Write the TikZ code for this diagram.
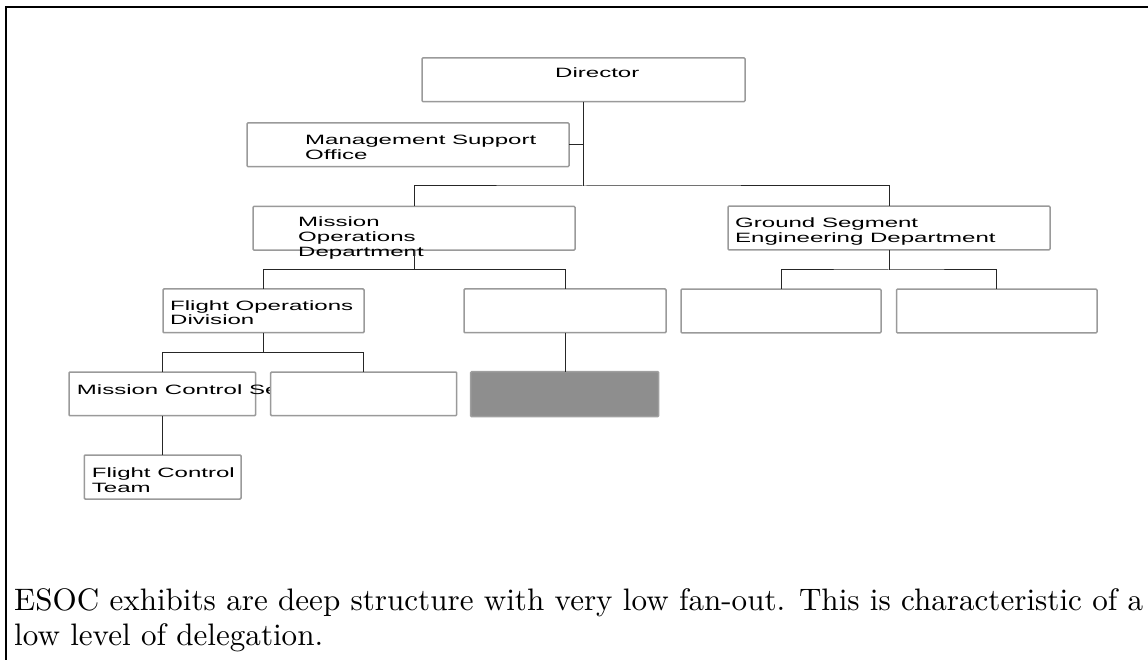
\documentclass[tikz,border=0pt]{standalone}
\usepackage{fontspec}
% Box labels: a wide sans face; caption: Latin Modern at its 10pt design
\newfontfamily\boxfont[FakeStretch=1.78]{Liberation Sans}
\newfontfamily\capfont{lmroman10-regular.otf}
\newlength\capwidth
\definecolor{boxline}{HTML}{9A9A9A}
\definecolor{linkline}{HTML}{262626}
\definecolor{shade}{HTML}{8E8E8E}
\begin{document}
% size the caption so that its first line fills the frame width
\settowidth\capwidth{\capfont\fontsize{10}{12}\selectfont ESOC exhibits are deep structure with very low fan-out. This is characteristic of a}
\pgfmathsetmacro\capsize{10*1129/\capwidth}
\begin{tikzpicture}[x=1pt,y=-1pt,
  unit/.style={draw=boxline, line width=1.5pt, fill=white, rounded corners=1pt,
    inner sep=0pt, outer sep=0pt, minimum height=43.7pt},
  filled/.style={unit, fill=shade, draw=shade!85!white},
  % labels are placed by the baseline of their last line
  boxlabel/.style={anchor=base west, inner sep=0pt, align=left,
    font=\boxfont\fontsize{13.5}{14.8}\selectfont},
  link/.style={draw=linkline, line width=1pt},
]
\useasboundingbox (0,0) rectangle (1148,660);

% outer frame (left and top edges)
\draw[line width=2.2pt] (5.7,670) -- (5.7,7.3) -- (1160,7.3);

% top level
\node[unit, minimum width=323pt] (dir) at (583.5,79.75) {};
\node[boxlabel] (dirT) at (555,78) {Director};

\node[unit, minimum width=322pt] (mso) at (408,144.75) {};
\node[boxlabel] (msoT) at (305,159.6) {Management Support\\Office};

% departments
\node[unit, minimum width=322pt] (mod) at (414,228.25) {};
\node[boxlabel] (modT) at (298,256.4) {Mission\\Operations\\Department};

\node[unit, minimum width=322pt] (gsed) at (889,228) {};
\node[boxlabel] (gsedT) at (735,242.3) {Ground Segment\\Engineering Department};

% divisions
\node[unit, minimum width=201pt] (fod) at (263.5,310.85) {};
\node[boxlabel] (fodT) at (170,324.8) {Flight Operations\\Division};

\node[unit, minimum width=202pt] (divb) at (565,310.85) {};
\node[unit, minimum width=200pt] (gsa) at (781,311) {};
\node[unit, minimum width=200.5pt] (gsb) at (996.75,311) {};

% sections
\node[unit, minimum width=186.5pt] (mcs) at (162.25,393.85) {};
\node[boxlabel] (mcsT) at (76.7,394) {Mission Control Se};
\node[unit, minimum width=186pt] (secb) at (363.7,393.85) {};
\node[filled, minimum width=188pt, minimum height=45pt] (secc) at (564.7,394.2) {};

% team
\node[unit, minimum width=156.7pt, minimum height=44pt] (fct) at (162.65,477) {};
\node[boxlabel] (fctT) at (91.7,492) {Flight Control\\Team};

% connectors
\coordinate (busA) at (583.5,186);
\coordinate (busB) at (414,269.5);
\coordinate (busC) at (889,270);
\coordinate (busD) at (263.5,352.3);

\draw[link] (dir.south) -- (busA);
\draw[link] (mso.east) -- (mso.east -| dir.south);
\draw[link] (mod.north) |- (busA) -| (gsed.north);

\draw[link] (mod.south) -- (busB);
\draw[link] (fod.north) |- (busB) -| (divb.north);

\draw[link] (gsed.south) -- (busC);
\draw[link] (gsa.north) |- (busC) -| (gsb.north);

\draw[link] (divb.south) -- (divb.south |- secc.north);

\draw[link] (fod.south) -- (busD);
\draw[link] (mcs.north) |- (busD) -| (secb.north);

\draw[link] (mcs.south) -- (mcs.south |- fct.north);

% caption (anchored at the baseline of its second line)
\node[anchor=base west, inner sep=0pt, align=left,
  font=\capfont\fontsize{\capsize}{35}\selectfont] (caption) at (14,645)
  {ESOC exhibits are deep structure with very low fan-out. This is characteristic of a\\
   low level of delegation.};
\end{tikzpicture}
\end{document}
